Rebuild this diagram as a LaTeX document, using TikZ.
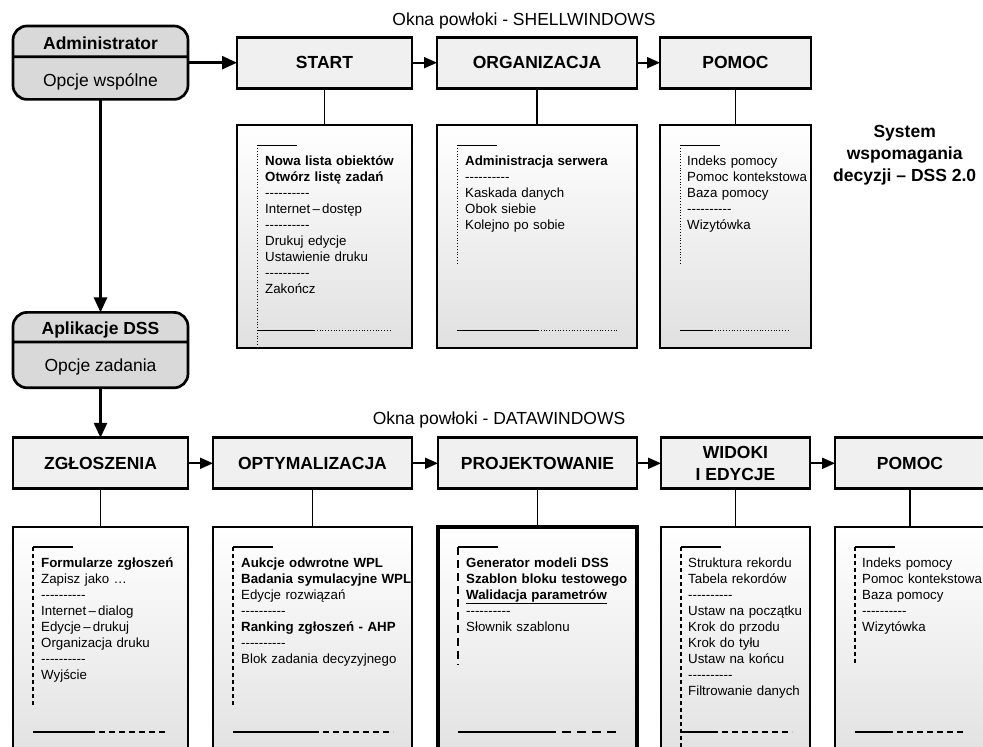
\documentclass[tikz,border=0pt]{standalone}
\usepackage{fontspec}
\setmainfont{Liberation Sans}
\usetikzlibrary{positioning,calc,shapes.multipart,arrows.meta}

\definecolor{headfill}{HTML}{F0F0F0}
\definecolor{rolefill}{HTML}{D9D9D9}
\definecolor{listfill}{HTML}{E0E0E0}

\newcommand{\dashrule}{-{}-{}-{}-{}-{}-{}-{}-{}-{}-}
% look, list node, side length, solid part, whole bottom rule
\newcommand{\listframe}[5]{%
	\draw[#1 side] ([shift={(20pt,-20pt)}]#2.north west) -- ++(0,-#3);
	\draw[#1 rule] ([shift={(20pt,-20pt)}]#2.north west) -- ++(40pt,0);
	\draw[#1 rule] ([shift={(20pt,-205pt)}]#2.north west) -- ++(#4,0);
	\draw[#1 tail] ([shift={(20pt,-205pt)}]#2.north west) ++(#4,0) -- ++(#5-#4,0);
}

\tikzset{
	>={Triangle[length=13pt,width=11pt]},
	head/.style={draw, line width=2.7pt, outer sep=0pt, fill=headfill, minimum height=51pt, inner sep=0pt, align=center, font=\fontsize{17.5}{22}\selectfont\bfseries},
	role/.style={rectangle split, rectangle split parts=2, draw, line width=2.7pt, outer sep=0pt, rounded corners=14pt, fill=rolefill, minimum width=175pt, inner sep=0pt, font=\fontsize{17.5}{20}\selectfont},
	list/.style={draw, line width=2pt, outer sep=0pt, top color=white, bottom color=listfill, inner sep=0pt},
	items/.style={anchor=north west, inner sep=0pt, text width=200pt, font=\fontsize{13.3}{16}\selectfont, execute at begin node=\strut},
	caption/.style={inner sep=0pt, font=\fontsize{17.5}{22}\selectfont},
	link/.style={line width=1.6pt},
	flow/.style={->, line width=2pt},
	shell side/.style={line width=0.8pt, dotted},
	shell rule/.style={line width=0.8pt},
	shell tail/.style={line width=0.8pt, dotted},
	data side/.style={line width=1.3pt, dash pattern=on 4pt off 3pt},
	data rule/.style={line width=1.6pt},
	data tail/.style={line width=1.6pt, dash pattern=on 6pt off 4pt},
	bold side/.style={line width=2.5pt, dash pattern=on 8pt off 5pt},
	bold rule/.style={line width=2.5pt},
	bold tail/.style={line width=2.5pt, dash pattern=on 9pt off 6pt},
}

\begin{document}
\begin{tikzpicture}[x=1pt, y=1pt]
	\useasboundingbox (0,0) rectangle (983,747);
	\clip (0,0) rectangle (983,747);

	% roles
	\node[role, anchor=north] (adm) at (100.5,721) {\rule[-6pt]{0pt}{28pt}\textbf{Administrator}\nodepart{two}\rule[-12pt]{0pt}{40pt}Opcje wspólne};
	\node[role, below=213pt of adm] (apl) {\rule[-6pt]{0pt}{27pt}\textbf{Aplikacje DSS}\nodepart{two}\rule[-15pt]{0pt}{43pt}Opcje zadania};

	% shell windows
	\node[head, minimum width=175pt, right=49pt of adm] (start) {START};
	\node[head, minimum width=200pt, right=25pt of start] (orga) {ORGANIZACJA};
	\node[head, minimum width=151pt, right=23pt of orga] (help) {POMOC};
	\node[list, minimum width=175pt, minimum height=223pt, below=37pt of start] (startlist) {};
	\node[list, minimum width=200pt, minimum height=223pt, below=37pt of orga] (orgalist) {};
	\node[list, minimum width=151pt, minimum height=223pt, below=37pt of help] (helplist) {};

	% data windows
	\node[head, minimum width=175pt, below=50pt of apl] (notif) {ZGŁOSZENIA};
	\node[head, minimum width=199pt, right=25pt of notif] (optim) {OPTYMALIZACJA};
	\node[head, minimum width=199pt, right=26pt of optim] (design) {PROJEKTOWANIE};
	\node[head, minimum width=149pt, right=24pt of design] (views) {WIDOKI\\I EDYCJE};
	\node[head, minimum width=150pt, right=25pt of views] (help2) {POMOC};
	\node[list, minimum width=175pt, minimum height=240pt, below=38pt of notif] (notiflist) {};
	\node[list, minimum width=199pt, minimum height=240pt, below=38pt of optim] (optimlist) {};
	\node[list, line width=3.5pt, minimum width=199pt, minimum height=240pt, below=38pt of design] (designlist) {};
	\node[list, minimum width=149pt, minimum height=240pt, below=38pt of views] (viewslist) {};
	\node[list, minimum width=150pt, minimum height=240pt, below=38pt of help2] (help2list) {};

	% captions
	\coordinate (shelltop) at ($(start.north west)!0.5!(help.north east)$);
	\coordinate (datatop) at ($(notif.north west)!0.5!(help2.north east)$);
	\node[caption, above=8pt of shelltop] (shell) {Okna powłoki - SHELLWINDOWS};
	\node[caption, above=9pt of datatop] (data) {Okna powłoki - DATAWINDOWS};
	\node[caption, align=center, anchor=north west, font=\fontsize{17.5}{22}\selectfont\bfseries] (dss) at ([xshift=22pt]helplist.north east) {System\\wspomagania\\decyzji – DSS 2.0};

	% menu frames
	\listframe{shell}{startlist}{199pt}{57pt}{135pt}
	\listframe{shell}{orgalist}{120pt}{81pt}{160pt}
	\listframe{shell}{helplist}{118pt}{32pt}{110pt}
	\listframe{data}{notiflist}{158pt}{56pt}{134pt}
	\listframe{data}{optimlist}{158pt}{80pt}{160pt}
	\listframe{bold}{designlist}{118pt}{89pt}{162pt}
	\listframe{data}{viewslist}{215pt}{31pt}{111pt}
	\listframe{data}{help2list}{118pt}{32pt}{111pt}

	% menu items
	\node[items] (startitems) at ([shift={(28pt,-29pt)}]startlist.north west) {\textbf{Nowa lista obiektów}\\\textbf{Otwórz listę zadań}\\\dashrule\\Internet\,–\,dostęp\\\dashrule\\Drukuj edycje\\Ustawienie druku\\\dashrule\\Zakończ};
	\node[items] (orgaitems) at ([shift={(28pt,-29pt)}]orgalist.north west) {\textbf{Administracja serwera}\\\dashrule\\Kaskada danych\\Obok siebie\\Kolejno po sobie};
	\node[items] (helpitems) at ([shift={(27pt,-29pt)}]helplist.north west) {Indeks pomocy\\Pomoc kontekstowa\\Baza pomocy\\\dashrule\\Wizytówka};
	\node[items] (notifitems) at ([shift={(28pt,-29pt)}]notiflist.north west) {\textbf{Formularze zgłoszeń}\\Zapisz jako …\\\dashrule\\Internet\,–\,dialog\\Edycje\,–\,drukuj\\Organizacja druku\\\dashrule\\Wyjście};
	\node[items] (optimitems) at ([shift={(28pt,-29pt)}]optimlist.north west) {\textbf{Aukcje odwrotne WPL}\\\textbf{Badania symulacyjne WPL}\\Edycje rozwiązań\\\dashrule\\\textbf{Ranking zgłoszeń - AHP}\\\dashrule\\Blok zadania decyzyjnego};
	\node[items] (designitems) at ([shift={(28pt,-29pt)}]designlist.north west) {\textbf{Generator modeli DSS}\\\textbf{Szablon bloku testowego}\\\underline{\textbf{Walidacja parametrów}}\\\dashrule\\Słownik szablonu};
	\node[items] (viewsitems) at ([shift={(27pt,-29pt)}]viewslist.north west) {Struktura rekordu\\Tabela rekordów\\\dashrule\\Ustaw na początku\\Krok do przodu\\Krok do tyłu\\Ustaw na końcu\\\dashrule\\Filtrowanie danych};
	\node[items] (help2items) at ([shift={(27pt,-29pt)}]help2list.north west) {Indeks pomocy\\Pomoc kontekstowa\\Baza pomocy\\\dashrule\\Wizytówka};

	% connectors
	\path[flow]
	(start) edge (orga)
	(orga) edge (help)
	(notif) edge (optim)
	(optim) edge (design)
	(design) edge (views)
	(views) edge (help2)
	;
	\path[flow, line width=2.7pt, >={Triangle[length=15pt,width=13pt]}]
	(adm) edge (start)
	(adm) edge (apl)
	(apl) edge (notif)
	;
	\path[link]
	(start) edge (startlist)
	(orga) edge (orgalist)
	(help) edge (helplist)
	(notif) edge (notiflist)
	(optim) edge (optimlist)
	(design) edge (designlist)
	(views) edge (viewslist)
	(help2) edge (help2list)
	;
\end{tikzpicture}
\end{document}
